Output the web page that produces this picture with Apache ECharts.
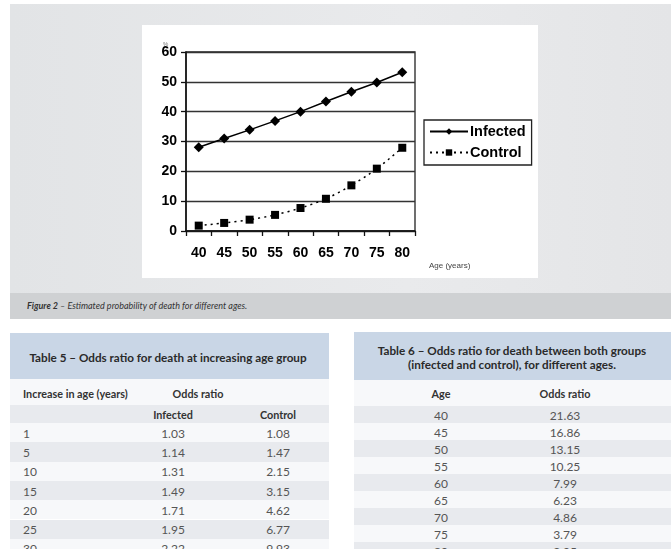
<!DOCTYPE html>
<html><head><meta charset="utf-8">
<script src="https://cdn.jsdelivr.net/npm/echarts@6/dist/echarts.min.js"></script>
<style>
html,body{margin:0;padding:0;background:#fff;width:671px;height:549px;overflow:hidden;position:relative;font-family:Lato,"Open Sans",sans-serif;}
.abs{position:absolute;}
.panel{left:10px;top:4px;width:661px;height:289px;background:linear-gradient(90deg,#e2e4e6,#e9eaec 60%,#e4e5e7);}
.cap{left:10px;top:293px;width:661px;height:26px;background:#cfd1d3;}
.capt{left:27px;top:300px;font-size:9px;font-style:italic;color:#333;white-space:nowrap;}
#chart{left:142px;top:25px;width:396px;height:253px;background:#fff;}
.hdr{background:#c9d6e6;}
.g{background:#e8eaee;}
.w{background:#f7f8fa;}
.t{position:absolute;white-space:nowrap;font-size:12px;color:#555;transform:translate(-50%,-50%);}
.tl{transform:translate(0,-50%);}
.b{font-weight:bold;color:#333;font-size:10.8px;}
.hdrt{font-size:11.7px;color:#2a2a2a;font-weight:bold;}
</style></head>
<body>
<div class="abs panel"></div>
<div class="abs cap"></div>
<div class="abs capt"><b>Figure 2</b> – Estimated probability of death for different ages.</div>
<div class="abs" id="chart"></div>
<div id="tables"></div>
<script>
// Chart data
var ages = ['40','45','50','55','60','65','70','75','80'];
var infected = [28.1, 31.0, 33.9, 36.9, 40.0, 43.4, 46.7, 49.8, 53.2];
var control = [1.8, 2.7, 3.8, 5.4, 7.7, 10.8, 15.3, 20.9, 27.9];

// Table 5 data
var t5Increase = ['1','5','10','15','20','25','30'];
var t5Infected = ['1.03','1.14','1.31','1.49','1.71','1.95','2.22'];
var t5Control = ['1.08','1.47','2.15','3.15','4.62','6.77','9.93'];
// Table 6 data
var t6Age = ['40','45','50','55','60','65','70','75','80'];
var t6Odds = ['21.63','16.86','13.15','10.25','7.99','6.23','4.86','3.79','2.95'];

var chart = echarts.init(document.getElementById('chart'), null, {renderer:'canvas'});
var bold14 = {fontFamily:'Liberation Sans, Arial, sans-serif', fontWeight:'bold', fontSize:14, color:'#000'};
chart.setOption({
  animation:false,
  backgroundColor:'#fff',
  grid:{left:44, right:123, top:27, bottom:47, show:true, borderColor:'#222', borderWidth:1.3, backgroundColor:'transparent'},
  legend:{
    orient:'vertical', left:282, top:95, padding:[4,6,5,5], itemGap:6,
    itemWidth:38, itemHeight:8, borderColor:'#222', borderWidth:1.3, borderRadius:0,
    textStyle:{fontFamily:'Liberation Sans, Arial, sans-serif', fontWeight:'bold', fontSize:14.5, color:'#000', padding:[0,0,0,-3]},
    data:['Infected','Control']
  },
  xAxis:{type:'category', data:ages, boundaryGap:true,
    axisLine:{lineStyle:{color:'#111', width:1.5}},
    axisTick:{show:true, length:5, interval:0, lineStyle:{color:'#111', width:1.3}},
    axisLabel:Object.assign({margin:15, interval:0}, bold14),
    splitLine:{show:false}
  },
  yAxis:{type:'value', min:0, max:60, interval:10,
    axisLine:{show:true, lineStyle:{color:'#111', width:1.5}},
    axisTick:{show:true, length:5, lineStyle:{color:'#111', width:1.3}},
    axisLabel:Object.assign({margin:9}, bold14),
    splitLine:{lineStyle:{color:'#333', width:1.3}}
  },
  graphic:[
    {type:'text', left:21, top:16, style:{text:'%', fontSize:6, fill:'#777', fontFamily:'Liberation Sans, Arial'}},
    {type:'text', left:287, top:237, style:{text:'Age (years)', fontSize:8, fill:'#444', fontFamily:'Liberation Sans, Arial'}}
  ],
  series:[
    {name:'Infected', type:'line', data:infected, symbol:'diamond', symbolSize:10,
     lineStyle:{color:'#000', width:1.5}, itemStyle:{color:'#000'}},
    {name:'Control', type:'line', data:control, symbol:'rect', symbolSize:8, smooth:0.3,
     lineStyle:{color:'#000', width:1.5, type:[2,4]}, itemStyle:{color:'#000'}}
  ]
});

// Tables
var H = '';
function box(x,y,w,h,cls){ H += '<div class="abs '+cls+'" style="left:'+x+'px;top:'+y+'px;width:'+w+'px;height:'+h+'px"></div>'; }
function txt(x,y,s,cls){ H += '<div class="t '+(cls||'')+'" style="left:'+x+'px;top:'+y+'px">'+s+'</div>'; }
// Table 5
box(10,333,319,46,'hdr');
txt(168,357,'Table 5 – Odds ratio for death at increasing age group','hdrt');
box(10,379,319,26,'w');
txt(23,393,'Increase in age (years)','b tl');
txt(198,393,'Odds ratio','b');
box(10,405,319,18,'g');
txt(173,414,'Infected','b');
txt(278,414,'Control','b');
var y5 = 423, h5 = 19.3;
for (var i=0;i<t5Increase.length;i++){
  var yy = y5 + i*h5;
  box(10,yy,319,h5,(i%2===0)?'w':'g');
  txt(23,yy+h5/2,t5Increase[i],'tl');
  txt(173,yy+h5/2,t5Infected[i]);
  txt(278,yy+h5/2,t5Control[i]);
}
// Table 6
box(354,332,317,48,'hdr');
txt(512,350,'Table 6 – Odds ratio for death between both groups','hdrt');
txt(512,364,'(infected and control), for different ages.','hdrt');
box(354,380,317,26,'w');
txt(441,393,'Age','b');
txt(565,393,'Odds ratio','b');
var y6 = 406, h6 = 17;
for (var j=0;j<t6Age.length;j++){
  var y2 = y6 + j*h6;
  box(354,y2,317,h6,(j%2===0)?'g':'w');
  txt(441,y2+h6/2,t6Age[j]);
  txt(565,y2+h6/2,t6Odds[j]);
}
document.getElementById('tables').innerHTML = H;
</script>
</body></html>
